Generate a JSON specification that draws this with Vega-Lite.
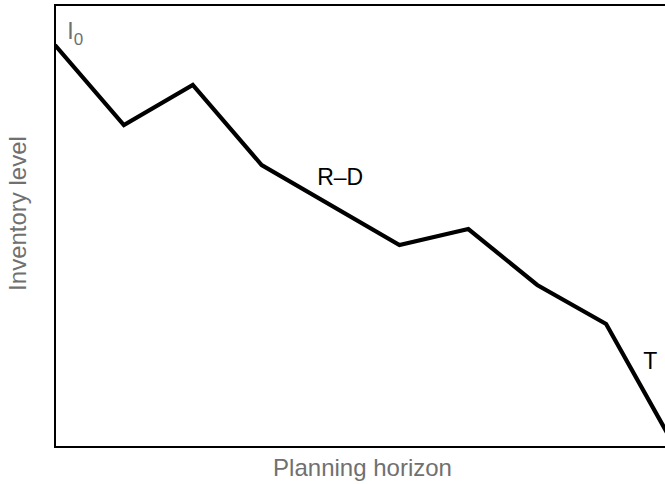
{
  "$schema": "https://vega.github.io/schema/vega-lite/v6.json",
  "autosize": "none",
  "width": 620,
  "height": 442,
  "padding": {"left": 55, "top": 5, "right": 0, "bottom": 37},
  "background": "white",
  "config": {
    "view": {"stroke": "black", "strokeWidth": 2},
    "font": "Liberation Sans"
  },
  "datasets": {
    "line": [
      {"t": 0, "inv": 402},
      {"t": 1, "inv": 322},
      {"t": 2, "inv": 362},
      {"t": 3, "inv": 282},
      {"t": 5, "inv": 202},
      {"t": 6, "inv": 218},
      {"t": 7, "inv": 162},
      {"t": 8, "inv": 123},
      {"t": 9, "inv": 0}
    ],
    "labels": [
      {"t": 4.14, "inv": 269, "label": "R–D"},
      {"t": 8.64, "inv": 85, "label": "T"}
    ],
    "start": [
      {"t": 0.225, "inv": 415, "label": "I"}
    ],
    "startsub": [
      {"t": 0.34, "inv": 407, "label": "0"}
    ]
  },
  "layer": [
    {
      "data": {"name": "line"},
      "mark": {"type": "line", "color": "black", "strokeWidth": 4.2, "clip": true},
      "encoding": {
        "x": {
          "field": "t", "type": "quantitative",
          "scale": {"domain": [0, 9], "nice": false, "zero": false},
          "axis": {"title": "Planning horizon", "labels": false, "ticks": false, "domain": false, "grid": false, "titleFontSize": 24, "titleFontWeight": "normal", "titleColor": "#707070", "titlePadding": 9, "titleX": 307}
        },
        "y": {
          "field": "inv", "type": "quantitative",
          "scale": {"domain": [0, 442], "nice": false},
          "axis": {"title": "Inventory level", "labels": false, "ticks": false, "domain": false, "grid": false, "titleFontSize": 24, "titleFontWeight": "normal", "titleColor": "#707070", "titlePadding": 25, "titleY": 208}
        }
      }
    },
    {
      "data": {"name": "labels"},
      "mark": {"type": "text", "fontSize": 23, "align": "center", "baseline": "middle", "color": "black"},
      "encoding": {
        "x": {"field": "t", "type": "quantitative"},
        "y": {"field": "inv", "type": "quantitative"},
        "text": {"field": "label"}
      }
    },
    {
      "data": {"name": "start"},
      "mark": {"type": "text", "fontSize": 23, "align": "center", "baseline": "middle", "color": "#707070"},
      "encoding": {
        "x": {"field": "t", "type": "quantitative"},
        "y": {"field": "inv", "type": "quantitative"},
        "text": {"field": "label"}
      }
    },
    {
      "data": {"name": "startsub"},
      "mark": {"type": "text", "fontSize": 17, "align": "center", "baseline": "middle", "color": "#707070"},
      "encoding": {
        "x": {"field": "t", "type": "quantitative"},
        "y": {"field": "inv", "type": "quantitative"},
        "text": {"field": "label"}
      }
    }
  ]
}
